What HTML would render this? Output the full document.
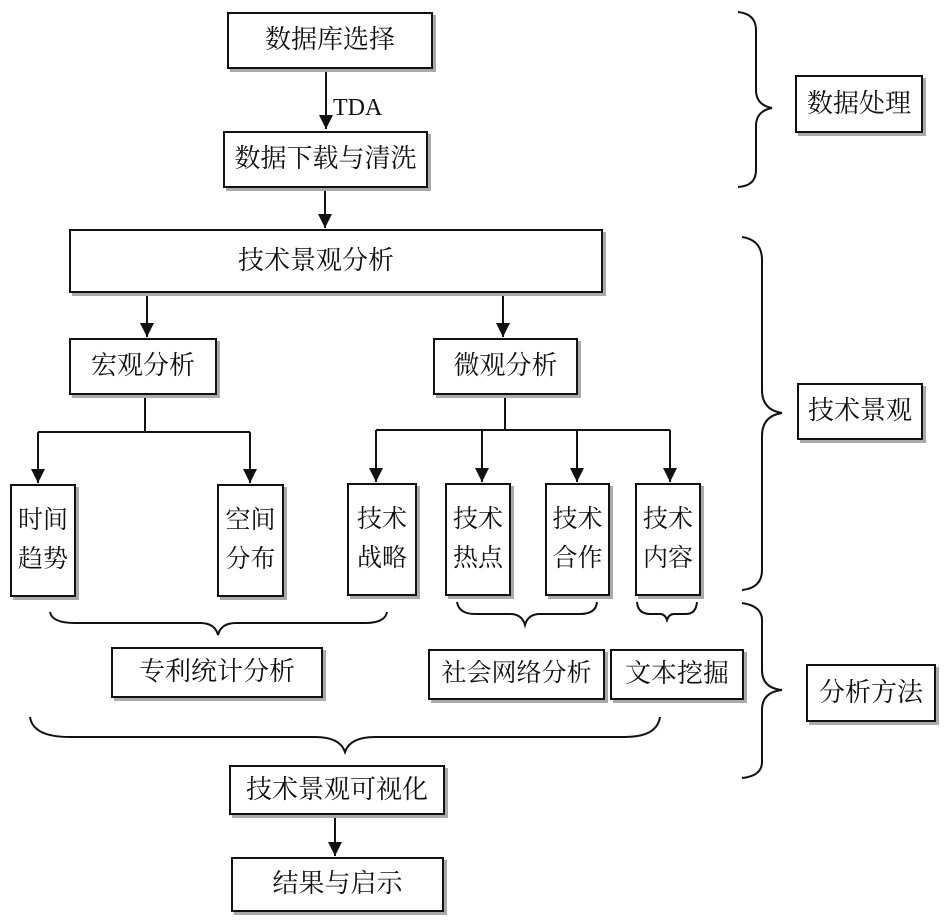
<!DOCTYPE html>
<html><head><meta charset="utf-8"><style>
body{margin:0;background:#fff;width:945px;height:924px;position:relative;overflow:hidden;font-family:"Liberation Serif","Noto Serif CJK SC","Noto Sans CJK SC",serif;}
.b{position:absolute;border:2px solid #111;background:#fff;box-shadow:3px 3px 0 #aaa;box-sizing:border-box;display:flex;align-items:center;justify-content:center;font-size:26px;color:#111;line-height:1.55;text-align:center;}
svg{position:absolute;left:0;top:0}
</style></head><body>
<svg width="945" height="924" viewBox="0 0 945 924">
<defs><marker id="a" markerWidth="10" markerHeight="10" refX="5" refY="9" orient="auto" markerUnits="userSpaceOnUse"><path d="M0,0 L10,0 L5,10 z" fill="#111"/></marker>
<marker id="d" viewBox="0 0 10 10" markerWidth="14" markerHeight="16" refX="5" refY="10" orient="0" markerUnits="userSpaceOnUse"><path d="M0,0 L10,0 L5,10 z" fill="#111"/></marker></defs>
<g stroke="#111" stroke-width="2" fill="none">
<line x1="326" y1="69" x2="326" y2="129" marker-end="url(#d)"/>
<line x1="325" y1="188" x2="325" y2="228" marker-end="url(#d)"/>
<line x1="147" y1="293" x2="147" y2="337" marker-end="url(#d)"/>
<line x1="503" y1="293" x2="503" y2="337" marker-end="url(#d)"/>
<line x1="145" y1="395" x2="145" y2="432"/>
<line x1="38" y1="432" x2="250" y2="432"/>
<line x1="38" y1="432" x2="38" y2="483" marker-end="url(#d)"/>
<line x1="250" y1="432" x2="250" y2="483" marker-end="url(#d)"/>
<line x1="505" y1="395" x2="505" y2="430"/>
<line x1="376" y1="430" x2="670" y2="430"/>
<line x1="376" y1="430" x2="376" y2="482" marker-end="url(#d)"/>
<line x1="482" y1="430" x2="482" y2="482" marker-end="url(#d)"/>
<line x1="577" y1="430" x2="577" y2="482" marker-end="url(#d)"/>
<line x1="670" y1="430" x2="670" y2="482" marker-end="url(#d)"/>
<line x1="335" y1="815" x2="335" y2="856" marker-end="url(#d)"/>
<!-- bottom braces -->
<path d="M50,612 Q52,623 75,623 L200,623 Q215,623 218,635 Q221,623 236,623 L365,623 Q385,623 387,612"/>
<path d="M457,602 Q459,614 475,614 L510,614 Q522,614 525,625 Q528,614 540,614 L580,614 Q596,614 597,602"/>
<path d="M637,602 Q638,614 650,614 L660,614 Q665,614 667,620 Q669,614 674,614 L686,614 Q696,614 697,602"/>
<path d="M30,717 Q33,737 70,737 L315,737 Q340,737 345,752 Q350,737 375,737 L625,737 Q657,737 660,717"/>
<!-- right braces -->
<path d="M738,12 Q756,14 756,30 L756,90 Q756,105 772,108 Q756,111 756,126 L756,170 Q756,186 738,187"/>
<path d="M742,237 Q762,240 762,260 L762,390 Q762,410 782,413 Q762,416 762,436 L762,570 Q762,588 742,590"/>
<path d="M742,603 Q762,606 762,620 L762,670 Q762,688 782,690 Q762,692 762,710 L762,762 Q762,776 742,778"/>
</g>
<text x="333" y="115" font-family="Liberation Serif" font-size="24" fill="#111">TDA</text>
</svg>
<div class="b" style="left:227px;top:12px;width:206px;height:57px">数据库选择</div>
<div class="b" style="left:223px;top:131px;width:205px;height:57px">数据下载与清洗</div>
<div class="b" style="left:69px;top:229px;width:534px;height:64px;padding-right:40px">技术景观分析</div>
<div class="b" style="left:69px;top:338px;width:148px;height:57px">宏观分析</div>
<div class="b" style="left:433px;top:338px;width:145px;height:57px">微观分析</div>
<div class="b" style="left:10px;top:484px;width:66px;height:113px;font-size:25px">时间<br>趋势</div>
<div class="b" style="left:217px;top:484px;width:67px;height:113px;font-size:25px">空间<br>分布</div>
<div class="b" style="left:347px;top:483px;width:70px;height:113px;font-size:25px">技术<br>战略</div>
<div class="b" style="left:445px;top:483px;width:66px;height:113px;font-size:25px">技术<br>热点</div>
<div class="b" style="left:545px;top:483px;width:65px;height:113px;font-size:25px">技术<br>合作</div>
<div class="b" style="left:635px;top:483px;width:66px;height:113px;font-size:25px">技术<br>内容</div>
<div class="b" style="left:111px;top:647px;width:212px;height:51px">专利统计分析</div>
<div class="b" style="left:428px;top:649px;width:177px;height:51px;font-size:25px">社会网络分析</div>
<div class="b" style="left:610px;top:649px;width:134px;height:51px">文本挖掘</div>
<div class="b" style="left:229px;top:765px;width:216px;height:50px">技术景观可视化</div>
<div class="b" style="left:231px;top:857px;width:213px;height:55px">结果与启示</div>
<div class="b" style="left:795px;top:75px;width:128px;height:58px">数据处理</div>
<div class="b" style="left:797px;top:383px;width:126px;height:57px">技术景观</div>
<div class="b" style="left:806px;top:664px;width:130px;height:58px">分析方法</div>
</body></html>
